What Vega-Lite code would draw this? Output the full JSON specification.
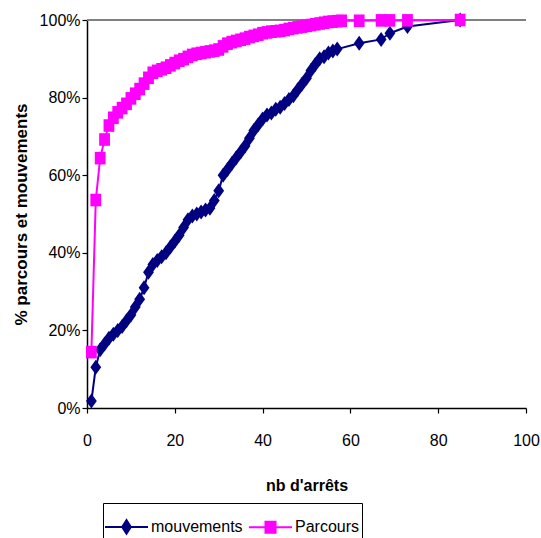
{
  "$schema": "https://vega.github.io/schema/vega-lite/v6.json",
  "autosize": {"type": "none"},
  "width": 439,
  "height": 388,
  "padding": {"left": 87, "top": 20, "right": 15, "bottom": 130},
  "background": "white",
  "config": {"view": {"stroke": null}, "font": "Liberation Sans"},
  "data": {"values": [
    {"x":1,"s":"mouvements","v":0.018},{"x":2,"s":"mouvements","v":0.105},{"x":3,"s":"mouvements","v":0.15},{"x":4,"s":"mouvements","v":0.165},{"x":5,"s":"mouvements","v":0.18},
    {"x":6,"s":"mouvements","v":0.19},{"x":7,"s":"mouvements","v":0.2},{"x":8,"s":"mouvements","v":0.21},{"x":9,"s":"mouvements","v":0.225},{"x":10,"s":"mouvements","v":0.24},
    {"x":11,"s":"mouvements","v":0.26},{"x":12,"s":"mouvements","v":0.28},{"x":13,"s":"mouvements","v":0.31},{"x":14,"s":"mouvements","v":0.35},{"x":15,"s":"mouvements","v":0.37},
    {"x":16,"s":"mouvements","v":0.38},{"x":17,"s":"mouvements","v":0.39},{"x":18,"s":"mouvements","v":0.4},{"x":19,"s":"mouvements","v":0.415},{"x":20,"s":"mouvements","v":0.43},
    {"x":21,"s":"mouvements","v":0.445},{"x":22,"s":"mouvements","v":0.465},{"x":23,"s":"mouvements","v":0.485},{"x":24,"s":"mouvements","v":0.495},{"x":25,"s":"mouvements","v":0.5},
    {"x":26,"s":"mouvements","v":0.505},{"x":27,"s":"mouvements","v":0.51},{"x":28,"s":"mouvements","v":0.515},{"x":29,"s":"mouvements","v":0.535},{"x":30,"s":"mouvements","v":0.56},
    {"x":31,"s":"mouvements","v":0.6},{"x":32,"s":"mouvements","v":0.615},{"x":33,"s":"mouvements","v":0.63},{"x":34,"s":"mouvements","v":0.645},{"x":35,"s":"mouvements","v":0.66},
    {"x":36,"s":"mouvements","v":0.675},{"x":37,"s":"mouvements","v":0.695},{"x":38,"s":"mouvements","v":0.715},{"x":39,"s":"mouvements","v":0.73},{"x":40,"s":"mouvements","v":0.745},
    {"x":41,"s":"mouvements","v":0.755},{"x":42,"s":"mouvements","v":0.76},{"x":43,"s":"mouvements","v":0.77},{"x":44,"s":"mouvements","v":0.775},{"x":45,"s":"mouvements","v":0.785},
    {"x":46,"s":"mouvements","v":0.795},{"x":47,"s":"mouvements","v":0.805},{"x":48,"s":"mouvements","v":0.82},{"x":49,"s":"mouvements","v":0.835},{"x":50,"s":"mouvements","v":0.85},
    {"x":51,"s":"mouvements","v":0.87},{"x":52,"s":"mouvements","v":0.885},{"x":53,"s":"mouvements","v":0.9},{"x":54,"s":"mouvements","v":0.905},{"x":55,"s":"mouvements","v":0.915},
    {"x":56,"s":"mouvements","v":0.92},{"x":57,"s":"mouvements","v":0.925},{"x":62,"s":"mouvements","v":0.94},{"x":67,"s":"mouvements","v":0.95},{"x":69,"s":"mouvements","v":0.966},
    {"x":73,"s":"mouvements","v":0.983},{"x":85,"s":"mouvements","v":1.0},
    {"x":1,"s":"Parcours","v":0.144},{"x":2,"s":"Parcours","v":0.536},{"x":3,"s":"Parcours","v":0.644},{"x":4,"s":"Parcours","v":0.692},{"x":5,"s":"Parcours","v":0.728},
    {"x":6,"s":"Parcours","v":0.748},{"x":7,"s":"Parcours","v":0.762},{"x":8,"s":"Parcours","v":0.773},{"x":9,"s":"Parcours","v":0.784},{"x":10,"s":"Parcours","v":0.798},
    {"x":11,"s":"Parcours","v":0.81},{"x":12,"s":"Parcours","v":0.822},{"x":13,"s":"Parcours","v":0.836},{"x":14,"s":"Parcours","v":0.851},{"x":15,"s":"Parcours","v":0.864},
    {"x":16,"s":"Parcours","v":0.869},{"x":17,"s":"Parcours","v":0.873},{"x":18,"s":"Parcours","v":0.877},{"x":19,"s":"Parcours","v":0.883},{"x":20,"s":"Parcours","v":0.889},
    {"x":21,"s":"Parcours","v":0.895},{"x":22,"s":"Parcours","v":0.899},{"x":23,"s":"Parcours","v":0.905},{"x":24,"s":"Parcours","v":0.91},{"x":25,"s":"Parcours","v":0.913},
    {"x":26,"s":"Parcours","v":0.915},{"x":27,"s":"Parcours","v":0.917},{"x":28,"s":"Parcours","v":0.919},{"x":29,"s":"Parcours","v":0.921},{"x":30,"s":"Parcours","v":0.924},
    {"x":31,"s":"Parcours","v":0.932},{"x":32,"s":"Parcours","v":0.939},{"x":33,"s":"Parcours","v":0.943},{"x":34,"s":"Parcours","v":0.946},{"x":35,"s":"Parcours","v":0.949},
    {"x":36,"s":"Parcours","v":0.952},{"x":37,"s":"Parcours","v":0.956},{"x":38,"s":"Parcours","v":0.959},{"x":39,"s":"Parcours","v":0.962},{"x":40,"s":"Parcours","v":0.966},
    {"x":41,"s":"Parcours","v":0.968},{"x":42,"s":"Parcours","v":0.97},{"x":43,"s":"Parcours","v":0.971},{"x":44,"s":"Parcours","v":0.972},{"x":45,"s":"Parcours","v":0.974},
    {"x":46,"s":"Parcours","v":0.977},{"x":47,"s":"Parcours","v":0.979},{"x":48,"s":"Parcours","v":0.981},{"x":49,"s":"Parcours","v":0.983},{"x":50,"s":"Parcours","v":0.985},
    {"x":51,"s":"Parcours","v":0.987},{"x":52,"s":"Parcours","v":0.989},{"x":53,"s":"Parcours","v":0.991},{"x":54,"s":"Parcours","v":0.993},{"x":55,"s":"Parcours","v":0.995},
    {"x":56,"s":"Parcours","v":0.996},{"x":57,"s":"Parcours","v":0.997},{"x":58,"s":"Parcours","v":0.998},{"x":62,"s":"Parcours","v":0.998},{"x":67,"s":"Parcours","v":0.999},
    {"x":69,"s":"Parcours","v":0.999},{"x":73,"s":"Parcours","v":0.999},{"x":85,"s":"Parcours","v":1.0}
  ]},
  "encoding": {
    "x": {"field": "x", "type": "quantitative",
      "scale": {"domain": [0, 100], "nice": false, "zero": false},
      "axis": {"values": [0, 20, 40, 60, 80, 100], "title": "nb d'arrêts", "grid": false, "labelFlush": false,
        "labelFont": "Liberation Sans", "labelFontSize": 16, "labelColor": "black", "labelPadding": 19,
        "tickColor": "black", "tickSize": 5, "domainColor": "black", "domainWidth": 1.5, "tickWidth": 1.2,
        "titleFont": "Liberation Sans", "titleFontSize": 16, "titleFontWeight": "bold", "titleColor": "black", "titlePadding": 29}},
    "y": {"field": "v", "type": "quantitative",
      "scale": {"domain": [0, 1], "nice": false},
      "axis": {"values": [0, 0.2, 0.4, 0.6, 0.8, 1], "format": ".0%", "title": "% parcours et mouvements", "grid": false, "labelFlush": false,
        "labelFont": "Liberation Sans", "labelFontSize": 16, "labelColor": "black", "labelPadding": 2,
        "tickColor": "black", "tickSize": 5, "domainColor": "black", "domainWidth": 1.5, "tickWidth": 1.2,
        "titleFont": "Liberation Sans", "titleFontSize": 17, "titleFontWeight": "bold", "titleColor": "black", "titlePadding": 9}}
  },
  "resolve": {"scale": {"color": "independent", "shape": "independent"}},
  "layer": [
    {"mark": {"type": "rule", "color": "#808080", "strokeWidth": 2},
     "encoding": {"y": {"datum": 1}, "x": {"datum": 0}, "x2": {"datum": 100}}},
    {"mark": {"type": "line", "strokeWidth": 2},
     "encoding": {
       "stroke": {"field": "s", "type": "nominal", "scale": {"domain": ["Parcours", "mouvements"], "range": ["#FF00FF", "#000080"]}, "legend": null}
     }},
    {"mark": {"type": "point", "filled": true, "opacity": 1, "size": 144, "strokeWidth": 0},
     "encoding": {
       "shape": {"field": "s", "type": "nominal", "scale": {"domain": ["mouvements", "Parcours"], "range": ["M0,-1.25L0.9,0L0,1.25L-0.9,0Z", "M-0.9,-1.05H0.9V1.05H-0.9Z"]}, "legend": null},
       "color": {"field": "s", "type": "nominal", "scale": {"domain": ["mouvements", "Parcours"], "range": ["#000080", "#FF00FF"]}, "legend": null}
     }},
    {"transform": [{"filter": "datum.x < 0"}],
     "mark": {"type": "point", "filled": true, "opacity": 1, "strokeWidth": 0},
     "encoding": {
       "shape": {"field": "s", "type": "nominal", "scale": {"domain": ["mouvements", "Parcours"], "range": ["M-1,-0.047H1V0.047H-1ZM0,-0.4L0.256,0L0,0.4L-0.256,0Z", "M-1,-0.047H1V0.047H-1ZM-0.28,-0.3H0.28V0.3H-0.28Z"]},
         "legend": {"title": null, "orient": "none", "legendX": 16, "legendY": 483, "direction": "horizontal",
           "strokeColor": "black", "fillColor": "white", "padding": 2, "cornerRadius": 0,
           "symbolSize": 1849, "symbolStrokeWidth": 0, "labelFont": "Liberation Sans", "labelFontSize": 16, "labelColor": "black",
           "labelOffset": 3, "columnPadding": 6}},
       "color": {"field": "s", "type": "nominal", "scale": {"domain": ["mouvements", "Parcours"], "range": ["#000080", "#FF00FF"]},
         "legend": {"title": null, "orient": "none", "legendX": 16, "legendY": 483, "direction": "horizontal",
           "strokeColor": "black", "fillColor": "white", "padding": 2, "cornerRadius": 0,
           "symbolSize": 1849, "symbolStrokeWidth": 0, "labelFont": "Liberation Sans", "labelFontSize": 16, "labelColor": "black",
           "labelOffset": 3, "columnPadding": 6}}
     }}
  ]
}
